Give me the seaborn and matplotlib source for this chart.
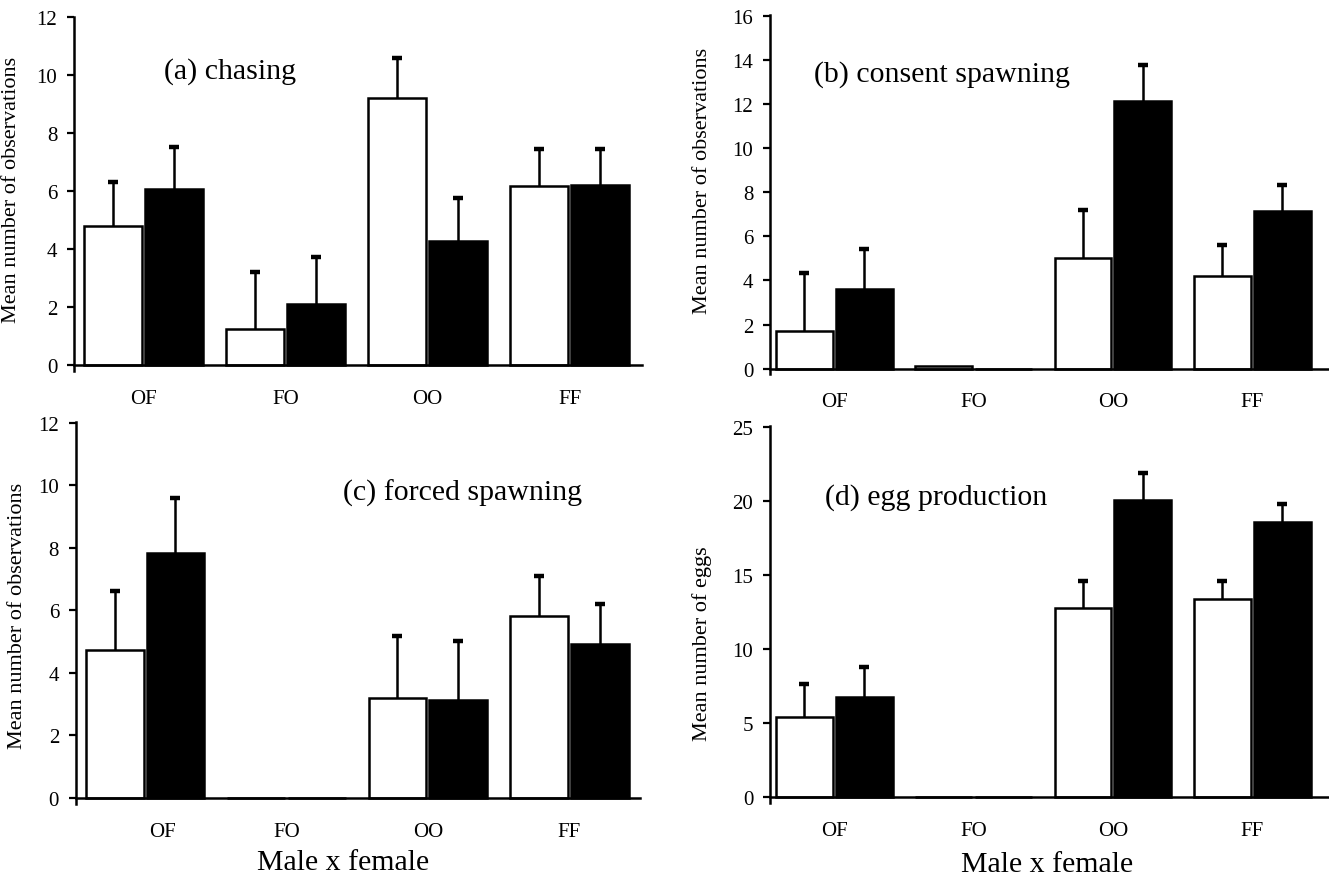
import numpy as np
import pandas as pd
import matplotlib
matplotlib.use("Agg")
import matplotlib.pyplot as plt
import matplotlib.transforms as mtrans
import seaborn as sns

# ---------------- data ----------------
categories = ["OF", "FO", "OO", "FF"]
series_names = ["white", "black"]

chasing_white = [4.80, 1.26, 9.21, 6.17]
chasing_white_se = [1.52, 1.96, 1.40, 1.30]
chasing_black = [6.09, 2.11, 4.27, 6.21]
chasing_black_se = [1.44, 1.61, 1.50, 1.26]

consent_white = [1.71, 0.13, 5.03, 4.21]
consent_white_se = [2.62, np.nan, 2.15, 1.38]
consent_black = [3.62, 0.0, 12.11, 7.15]
consent_black_se = [1.80, np.nan, 1.63, 1.17]

forced_white = [4.73, 0.0, 3.21, 5.82]
forced_white_se = [1.88, np.nan, 1.98, 1.27]
forced_black = [7.82, 0.0, 3.14, 4.94]
forced_black_se = [1.77, np.nan, 1.89, 1.25]

eggs_white = [5.43, 0.0, 12.74, 13.34]
eggs_white_se = [2.21, np.nan, 1.86, 1.26]
eggs_black = [6.76, 0.0, 20.07, 18.57]
eggs_black_se = [2.01, np.nan, 1.84, 1.22]

panel_titles = ["(a) chasing", "(b) consent spawning", "(c) forced spawning", "(d) egg production"]
y_labels = ["Mean number of observations", "Mean number of observations",
            "Mean number of observations", "Mean number of eggs"]
x_label = "Male x female"
y_maxes = [12, 16, 12, 25]
y_steps = [2, 2, 2, 5]

# ---------------- style ----------------
sns.set_theme(style="ticks")
plt.rcParams["font.family"] = ["Liberation Serif", "DejaVu Serif"]
plt.rcParams["axes.linewidth"] = 1.8
for key in ["axes.edgecolor", "text.color", "axes.labelcolor", "xtick.color", "ytick.color"]:
    plt.rcParams[key] = "black"

fig = plt.figure(figsize=(13.29, 8.79), dpi=100)

axes_rects = [
    [0.0557, 0.577, 0.4273, 0.403],
    [0.5794, 0.573, 0.4196, 0.409],
    [0.0570, 0.0842, 0.4246, 0.4346],
    [0.5794, 0.0853, 0.4196, 0.4289],
]
xlims = [(-0.49, 3.51), (-0.46, 3.54), (-0.49, 3.50), (-0.46, 3.54)]
title_pos = [(0.158, 0.847), (0.079, 0.836), (0.474, 0.817), (0.098, 0.812)]
ylabel_pos = [(-0.094, 0.514), (-0.104, 0.540), (-0.086, 0.495), (-0.104, 0.424)]
xlabel_pos = [None, None, (0.473, -0.119), (0.497, -0.127)]

panels = [
    (chasing_white, chasing_white_se, chasing_black, chasing_black_se),
    (consent_white, consent_white_se, consent_black, consent_black_se),
    (forced_white, forced_white_se, forced_black, forced_black_se),
    (eggs_white, eggs_white_se, eggs_black, eggs_black_se),
]

for i, (w, wse, b, bse) in enumerate(panels):
    ax = fig.add_axes(axes_rects[i])
    df = pd.DataFrame({
        "pair": categories * 2,
        "value": list(w) + list(b),
        "series": [series_names[0]] * 4 + [series_names[1]] * 4,
    })
    sns.barplot(data=df, x="pair", y="value", hue="series", order=categories,
                hue_order=series_names, palette={"white": "white", "black": "black"},
                edgecolor="black", linewidth=1.8, width=0.86, gap=0.05,
                errorbar=None, legend=False, ax=ax, zorder=3)
    # error bars (upper only)
    for cont, se in zip(ax.containers, [wse, bse]):
        xs = np.array([p.get_x() + p.get_width() / 2 for p in cont.patches])
        hs = np.array([p.get_height() for p in cont.patches])
        se_arr = np.array(se, dtype=float)
        mask = ~np.isnan(se_arr)
        xs, hs, errs = xs[mask], hs[mask], se_arr[mask]
        ax.vlines(xs, hs, hs + errs, colors="black", linewidth=1.8, zorder=2)
        ax.scatter(xs, hs + errs, marker="_", s=45, linewidths=3.2,
                   color="black", zorder=2)
    ax.set_xlim(*xlims[i])
    ymax = y_maxes[i]
    ax.set_ylim(-ymax * 0.016, ymax * 1.002)
    ax.set_yticks(np.arange(0, ymax + 0.1, y_steps[i]))
    ax.spines["bottom"].set_position(("data", 0))
    ax.spines["bottom"].set_zorder(4)
    for s in ["top", "right"]:
        ax.spines[s].set_visible(False)
    ax.tick_params(axis="y", direction="out", length=5, width=1.6, labelsize=15, pad=7)
    ax.tick_params(axis="x", length=0, labelsize=15, pad=17)
    ax.set_xlabel("")
    ax.set_ylabel(y_labels[i], fontsize=16)
    ax.yaxis.set_label_coords(*ylabel_pos[i])
    ax.text(title_pos[i][0], title_pos[i][1], panel_titles[i], transform=ax.transAxes,
            fontsize=21.5, ha="left", va="center")
    if i >= 2:
        ax.set_xlabel(x_label, fontsize=21.5)
        ax.xaxis.set_label_coords(*xlabel_pos[i])
    if i == 2:
        lab = ax.get_xticklabels()[0]
        lab.set_transform(lab.get_transform() + mtrans.ScaledTranslation(0.17, 0, fig.dpi_scale_trans))

fig.savefig("out.png", dpi=100)
